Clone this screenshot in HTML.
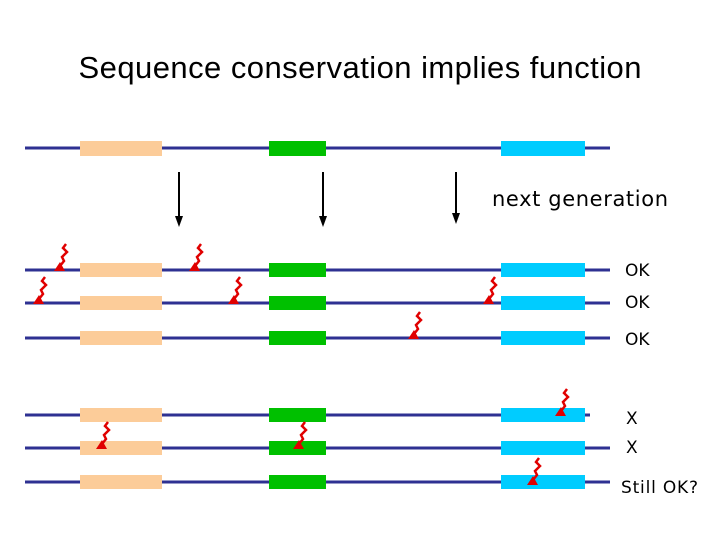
<!DOCTYPE html>
<html><head><style>body{margin:0;background:#fff;}svg{display:block}</style></head><body>
<svg width="720" height="540" xmlns="http://www.w3.org/2000/svg">
<defs>
<g id="b"><path d="M8,-26 L5,-22 L9,-18 L4,-13 L6,-9 L2,-4" fill="none" stroke="#e00000" stroke-width="2.5"/><path d="M-4,1 L2,-8 L7,1 Z" fill="#e00000"/></g>
</defs>
<text x="360" y="78" font-family="Liberation Sans, sans-serif" font-size="31" text-anchor="middle" textLength="563">Sequence conservation implies function</text>
<g stroke="#2e3192" stroke-width="3">
<line x1="25" y1="148" x2="610" y2="148"/><line x1="25" y1="270" x2="610" y2="270"/><line x1="25" y1="303" x2="610" y2="303"/><line x1="25" y1="338" x2="610" y2="338"/><line x1="25" y1="415" x2="590" y2="415"/><line x1="25" y1="448" x2="610" y2="448"/><line x1="25" y1="482" x2="610" y2="482"/>
</g>
<g>
<g fill="#fccc99"><rect x="80" y="141" width="82" height="15"/><rect x="80" y="263" width="82" height="14"/><rect x="80" y="296" width="82" height="14"/><rect x="80" y="331" width="82" height="14"/><rect x="80" y="408" width="82" height="14"/><rect x="80" y="441" width="82" height="14"/><rect x="80" y="475" width="82" height="14"/></g>
<g fill="#00c000"><rect x="269" y="141" width="57" height="15"/><rect x="269" y="263" width="57" height="14"/><rect x="269" y="296" width="57" height="14"/><rect x="269" y="331" width="57" height="14"/><rect x="269" y="408" width="57" height="14"/><rect x="269" y="441" width="57" height="14"/><rect x="269" y="475" width="57" height="14"/></g>
<g fill="#00ccff"><rect x="501" y="141" width="84" height="15"/><rect x="501" y="263" width="84" height="14"/><rect x="501" y="296" width="84" height="14"/><rect x="501" y="331" width="84" height="14"/><rect x="501" y="408" width="84" height="14"/><rect x="501" y="441" width="84" height="14"/><rect x="501" y="475" width="84" height="14"/></g>
</g>
<g stroke="#000" stroke-width="2"><line x1="179" y1="172" x2="179" y2="218"/><line x1="323" y1="172" x2="323" y2="218"/><line x1="456" y1="172" x2="456" y2="215"/></g>
<g fill="#000"><path d="M175,216 L183,216 L179,227 Z"/><path d="M319,216 L327,216 L323,227 Z"/><path d="M452,213 L460,213 L456,224 Z"/></g>
<use href="#b" x="58" y="270"/><use href="#b" x="193" y="270"/>
<use href="#b" x="37" y="303"/><use href="#b" x="232" y="303"/><use href="#b" x="487" y="303"/>
<use href="#b" x="412" y="338"/>
<use href="#b" x="559" y="415"/>
<use href="#b" x="100" y="448"/><use href="#b" x="297" y="448"/>
<use href="#b" x="531" y="484"/>
<g font-family="DejaVu Sans, sans-serif" font-size="17" fill="#000">
<text x="492" y="206" font-size="21" textLength="176">next generation</text>
<text x="625" y="276">OK</text><text x="625" y="308">OK</text><text x="625" y="345">OK</text>
<text x="626" y="424">X</text><text x="626" y="453">X</text><text x="621" y="493" textLength="77">Still OK?</text>
</g>
</svg>
</body></html>
